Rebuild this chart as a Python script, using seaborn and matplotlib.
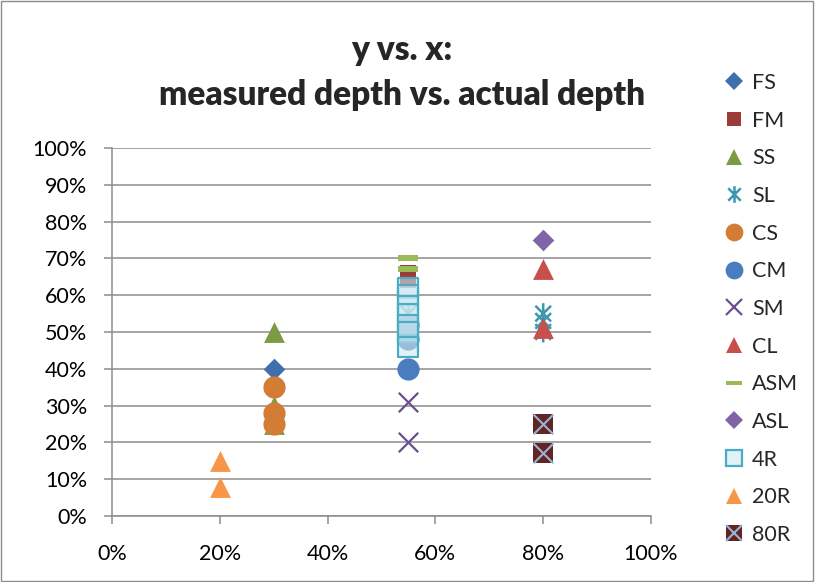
import numpy as np
import pandas as pd
import matplotlib
matplotlib.use("Agg")
import matplotlib.pyplot as plt
from matplotlib.path import Path
from matplotlib.ticker import PercentFormatter
from matplotlib.lines import Line2D
from matplotlib.legend_handler import HandlerTuple
import seaborn as sns

# ---- data (actual depth %, measured depth %) ----
fs_x, fs_y = [30], [40]
fm_x, fm_y = [55, 55], [66, 64]
ss_x, ss_y = [30, 30, 30], [50, 30, 25]
sl_x, sl_y = [55, 55, 80, 80, 80], [55, 52, 55, 53, 50]
cs_x, cs_y = [30, 30, 30], [35, 28, 25]
cm_x, cm_y = [55, 55, 55], [52, 48, 40]
sm_x, sm_y = [55, 55], [31, 20]
cl_x, cl_y = [80, 80], [67, 51]
asm_x, asm_y = [55, 55], [70, 67]
asl_x, asl_y = [80], [75]
r4_x, r4_y = [55, 55, 55, 55, 55, 55, 55], [62, 60, 57, 55, 52, 50, 46]
r20_x, r20_y = [20, 20], [15, 8]
r80_x, r80_y = [80, 80], [25, 17]

axis_ticks = [0, 10, 20, 30, 40, 50, 60, 70, 80, 90, 100]
x_ticks = [0, 20, 40, 60, 80, 100]

sns.set_theme(style="white")
plt.rcParams["font.family"] = ["Lato", "DejaVu Sans"]

# marker shapes
asterisk = Path(
    [(0, -1), (0, 1), (-0.75, -0.75), (0.75, 0.75), (-0.75, 0.75), (0.75, -0.75)],
    [Path.MOVETO, Path.LINETO, Path.MOVETO, Path.LINETO, Path.MOVETO, Path.LINETO],
)
dash = Path([(-1, -0.25), (1, -0.25), (1, 0.25), (-1, 0.25), (-1, -0.25)],
            [Path.MOVETO, Path.LINETO, Path.LINETO, Path.LINETO, Path.CLOSEPOLY])

series = [
    # label, x, y, marker, size(pt), face, edge, lw
    ("FS", fs_x, fs_y, "D", 11, "#3f6fad", "#3f6fad", 0),
    ("FM", fm_x, fm_y, "s", 12, "#9d3b38", "#9d3b38", 0),
    ("SS", ss_x, ss_y, "^", 15, "#7d9a45", "#7d9a45", 0),
    ("SL", sl_x, sl_y, asterisk, 15, "none", "#3d97ae", 1.8),
    ("CS", cs_x, cs_y, "o", 16, "#d27c35", "#d27c35", 0),
    ("CM", cm_x, cm_y, "o", 16, "#4a7dbf", "#4a7dbf", 0),
    ("SM", sm_x, sm_y, "x", 14, "none", "#6a4f8f", 1.6),
    ("CL", cl_x, cl_y, "^", 15, "#c8504c", "#c8504c", 0),
    ("ASM", asm_x, asm_y, dash, 15, "#9bbb59", "#9bbb59", 0),
    ("ASL", asl_x, asl_y, "D", 11, "#8064a8", "#8064a8", 0),
    ("4R", r4_x, r4_y, "s", 15, (0.80, 0.91, 0.95, 0.6), "#4bacc6", 1.6),
    ("20R", r20_x, r20_y, "^", 15, "#f79646", "#f79646", 0),
    ("80R", r80_x, r80_y, "s", 15, "#632523", "#632523", 0),
]

fig = plt.figure(figsize=(8.15, 5.82), dpi=100)
ax = fig.add_axes([112 / 815, 66 / 582, 539 / 815, 368 / 582])

grid_c = "#8c8c8c"
handles, labels = [], []
for i, (lab, xs, ys, mk, ms, fc, ec, lw) in enumerate(series):
    df = pd.DataFrame({"x": xs, "y": ys})
    if mk == "x":
        sns.scatterplot(data=df, x="x", y="y", marker=mk, s=ms ** 2, color=ec,
                        linewidth=lw, ax=ax, zorder=3 + i, legend=False)
        h = Line2D([], [], ls="none", marker=mk, ms=ms * 0.8, mec=ec, mfc="none", mew=lw)
    elif mk is asterisk:
        sns.scatterplot(data=df, x="x", y="y", marker=mk, s=ms ** 2, facecolors="none",
                        edgecolors=ec, linewidth=lw, ax=ax, zorder=3 + i, legend=False)
        h = Line2D([], [], ls="none", marker=mk, ms=ms * 0.8, mec=ec, mfc="none", mew=lw)
    else:
        sns.scatterplot(data=df, x="x", y="y", marker=mk, s=ms ** 2, facecolor=fc,
                        edgecolor=ec, linewidth=lw, ax=ax, zorder=3 + i, legend=False)
        h = Line2D([], [], ls="none", marker=mk, ms=ms * 0.8, mfc=fc, mec=ec, mew=lw)
    if lab == "80R":
        sns.scatterplot(data=df, x="x", y="y", marker="x", s=(ms * 0.95) ** 2, color="#9ab4d8",
                        linewidth=1.5, ax=ax, zorder=3 + i + 0.5, legend=False)
        h = (h, Line2D([], [], ls="none", marker="x", ms=ms * 0.78, mec="#9ab4d8", mew=1.5))
    handles.append(h)
    labels.append(lab)

ax.set_xlim(0, 100)
ax.set_ylim(0, 100)
ax.set_xticks(x_ticks)
ax.set_yticks(axis_ticks)
ax.xaxis.set_major_formatter(PercentFormatter(decimals=0))
ax.yaxis.set_major_formatter(PercentFormatter(decimals=0))
ax.set_xlabel("")
ax.set_ylabel("")
ax.grid(axis="y", color=grid_c, linewidth=1.1)
ax.grid(axis="x", visible=False)
ax.set_axisbelow(True)
for s in ("top", "right"):
    ax.spines[s].set_visible(False)
for s in ("left", "bottom"):
    ax.spines[s].set_color(grid_c)
    ax.spines[s].set_linewidth(1.1)
ax.tick_params(axis="y", direction="out", length=6, width=1.1, color=grid_c,
               labelsize=15.5, pad=12, left=True, labelcolor="black")
ax.tick_params(axis="x", direction="out", length=6, width=1.1, color=grid_c,
               labelsize=15.5, pad=14, bottom=True, labelcolor="black")

fig.text(402 / 815, 1 - 50 / 582, "y vs. x:", ha="center", va="center",
         fontsize=24, fontweight="heavy")
fig.text(402 / 815, 1 - 95 / 582, "measured depth vs. actual depth", ha="center", va="center",
         fontsize=24, fontweight="heavy")

fig.legend(handles, labels, loc="upper left", bbox_to_anchor=(723 / 815, 1 - 73 / 582),
           frameon=False, fontsize=15.5, handlelength=1.0, handletextpad=0.35,
           labelspacing=0.82, borderaxespad=0, borderpad=0,
           handler_map={tuple: HandlerTuple(ndivide=1, pad=0)})

# chart-area outline
fig.patches.append(plt.Rectangle((0.001, 0.001), 0.997, 0.997, transform=fig.transFigure,
                                 fill=False, edgecolor="#8c8c8c", linewidth=1.0))

fig.savefig("out.png", dpi=100)
